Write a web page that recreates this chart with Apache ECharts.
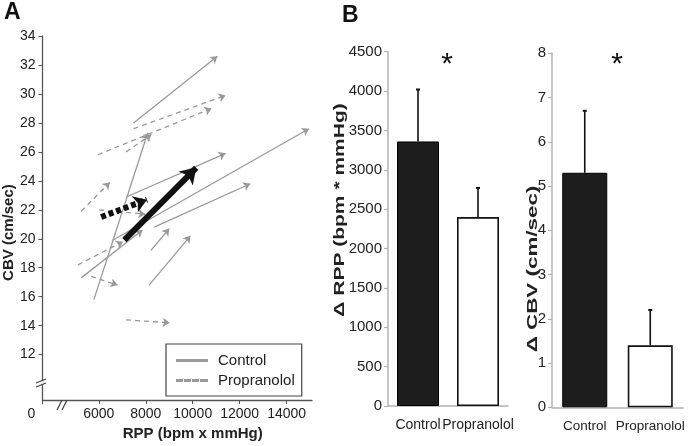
<!DOCTYPE html>
<html><head><meta charset="utf-8">
<script src="https://cdn.jsdelivr.net/npm/echarts@6/dist/echarts.min.js"></script>
<style>html,body{margin:0;padding:0;background:#fff}#c{width:689px;height:446px}</style>
</head><body><div id="c"></div>
<script>
// Panel A: individual subject arrows (rest -> exercise)
const controlRPP0 = [7480, 5790, 7200, 6590, 8360, 5250, 8220, 8140];
const controlCBV0 = [28.0, 15.8, 22.9, 19.9, 20.8, 17.3, 19.2, 16.8];
const controlRPP1 = [11050, 8080, 11400, 14950, 12450, 7860, 9000, 9900];
const controlCBV1 = [32.6, 27.3, 25.9, 27.6, 23.8, 20.6, 20.7, 20.2];
const propRPP0 = [7480, 5960, 5250, 6010, 5110, 7160, 5670, 7160];
const propCBV0 = [27.6, 25.8, 21.9, 22.0, 18.2, 26.0, 17.4, 14.4];
const propRPP1 = [11400, 10800, 6470, 7980, 7030, 8240, 6800, 9020];
const propCBV1 = [29.9, 29.0, 23.9, 21.7, 19.8, 27.2, 16.8, 14.2];
const meanControl = [[7085, 19.9], [10150, 24.9]];
const meanProp = [[6100, 21.5], [8050, 22.7]];
const yTicksA = [12, 14, 16, 18, 20, 22, 24, 26, 28, 30, 32, 34];
const xTicksA = [3600, 6000, 8000, 10000, 12000, 14000];
// Panel B
const groups = ['Control', 'Propranolol'];
const deltaRPP = [3360, 2400];
const deltaRPPerr = [660, 370];
const deltaCBV = [5.3, 1.4];
const deltaCBVerr = [1.4, 0.8];

const FONT = "'Liberation Sans', Arial, Helvetica, sans-serif";
const chart = echarts.init(document.getElementById('c'), null, {renderer: 'canvas'});

function segs(x0, y0, x1, y1) {
  return x0.map((v, i) => ({coords: [[v, y0[i]], [x1[i], y1[i]]]}));
}
function errSeries(xi, yi, vals, errs) {
  return {
    type: 'custom', xAxisIndex: xi, yAxisIndex: yi, z: 5,
    data: vals.map((v, i) => [i, v, errs[i]]),
    renderItem: function (params, api) {
      const lo = api.coord([api.value(0), api.value(1)]);
      const hi = api.coord([api.value(0), api.value(1) + api.value(2)]);
      return {type: 'group', children: [
        {type: 'line', shape: {x1: lo[0], y1: lo[1], x2: hi[0], y2: hi[1]}, style: {stroke: '#111', lineWidth: 1.6}},
        {type: 'line', shape: {x1: hi[0] - 2, y1: hi[1], x2: hi[0] + 2, y2: hi[1]}, style: {stroke: '#111', lineWidth: 2}}
      ]};
    }
  };
}
const grayAxis = {lineStyle: {color: '#b3b3b3', width: 1.5}};
const bAxisLabel = {color: '#222', fontSize: 15, fontFamily: FONT, margin: 6, formatter: v => String(v)};

const option = {
  animation: false,
  textStyle: {fontFamily: FONT},
  grid: [
    {left: 41, top: 36, width: 271, height: 369},
    {left: 388, top: 51.7, width: 120, height: 354.3},
    {left: 552, top: 53.3, width: 131, height: 354}
  ],
  xAxis: [
    {gridIndex: 0, type: 'value', min: 3600, max: 15080,
     axisLine: {lineStyle: {color: '#555', width: 1.3}},
     axisTick: {show: true, length: 4, customValues: xTicksA, lineStyle: {color: '#555'}},
     axisLabel: {customValues: xTicksA, color: '#222', fontSize: 14, margin: 7,
       formatter: v => v === 3600 ? '{z|0}' : String(v),
       rich: {z: {padding: [0, 22, 0, 0], fontSize: 14, color: '#222'}}},
     splitLine: {show: false},
     name: 'RPP (bpm x mmHg)', nameLocation: 'middle', nameGap: 23,
     nameTextStyle: {fontWeight: 'bold', fontSize: 15, color: '#222', padding: [0, 0, 0, 31]}},
    {gridIndex: 1, type: 'category', data: groups,
     axisLine: grayAxis, axisTick: {length: 5, lineStyle: {color: '#b3b3b3', width: 1.5}},
     axisLabel: {color: '#222', fontSize: 14, margin: 12, interval: 0, hideOverlap: false}},
    {gridIndex: 2, type: 'category', data: groups,
     axisLine: grayAxis, axisTick: {length: 5, lineStyle: {color: '#b3b3b3', width: 1.5}},
     axisLabel: {color: '#222', fontSize: 13.5, margin: 12, interval: 0, hideOverlap: false}}
  ],
  yAxis: [
    {gridIndex: 0, type: 'value', min: 8.86, max: 34,
     axisLine: {show: true, lineStyle: {color: '#555', width: 1.3}},
     axisTick: {show: true, length: 4, customValues: yTicksA, lineStyle: {color: '#555'}},
     axisLabel: {customValues: yTicksA, color: '#222', fontSize: 14, margin: 7},
     splitLine: {show: false},
     name: 'CBV (cm/sec)', nameLocation: 'middle', nameGap: 25,
     nameTextStyle: {fontWeight: 'bold', fontSize: 15, color: '#222', padding: [0, 29, 0, 0]}},
    {gridIndex: 1, type: 'value', min: 0, max: 4500, interval: 500,
     axisLine: {show: true, lineStyle: {color: '#b3b3b3', width: 1.5}},
     axisTick: {show: true, length: 4, lineStyle: {color: '#b3b3b3', width: 1.2}},
     axisLabel: bAxisLabel, splitLine: {show: false}},
    {gridIndex: 2, type: 'value', min: 0, max: 8, interval: 1,
     axisLine: {show: true, lineStyle: {color: '#b3b3b3', width: 1.5}},
     axisTick: {show: true, length: 4, lineStyle: {color: '#b3b3b3', width: 1.2}},
     axisLabel: bAxisLabel, splitLine: {show: false}}
  ],
  legend: {
    left: 166, top: 344, orient: 'vertical', padding: [9, 7, 8, 10], itemGap: 5,
    borderColor: '#444', borderWidth: 1.2, itemWidth: 30, itemHeight: 1.4,
    textStyle: {fontSize: 15, color: '#222', padding: [0, 0, 0, 6]},
    data: [
      {name: 'Control', icon: 'path://M0,0H30V1H0Z', itemStyle: {color: '#555'}},
      {name: 'Propranolol', icon: 'path://M0,0H5V1H0Z M8,0H13V1H8Z M16,0H21V1H16Z M24,0H30V1H24Z', itemStyle: {color: '#555'}}
    ]
  },
  series: [
    {name: 'Control', type: 'lines', coordinateSystem: 'cartesian2d', xAxisIndex: 0, yAxisIndex: 0,
     symbol: ['none', 'arrow'], symbolSize: 7, z: 2,
     lineStyle: {color: '#999', width: 1.3, opacity: 1}, itemStyle: {color: '#999'},
     data: segs(controlRPP0, controlCBV0, controlRPP1, controlCBV1)},
    {name: 'Propranolol', type: 'lines', coordinateSystem: 'cartesian2d', xAxisIndex: 0, yAxisIndex: 0,
     symbol: ['none', 'arrow'], symbolSize: 7, z: 2,
     lineStyle: {color: '#999', width: 1.3, type: [5, 4], opacity: 1}, itemStyle: {color: '#999'},
     data: segs(propRPP0, propCBV0, propRPP1, propCBV1)},
    {name: 'Control mean', type: 'lines', coordinateSystem: 'cartesian2d', xAxisIndex: 0, yAxisIndex: 0,
     symbol: ['none', 'arrow'], symbolSize: 15, z: 4,
     lineStyle: {color: '#111', width: 6, opacity: 1}, itemStyle: {color: '#111'},
     data: [{coords: meanControl}]},
    {name: 'Propranolol mean', type: 'lines', coordinateSystem: 'cartesian2d', xAxisIndex: 0, yAxisIndex: 0,
     symbol: ['none', 'arrow'], symbolSize: 13, z: 4,
     lineStyle: {color: '#111', width: 6, type: [5, 3], opacity: 1}, itemStyle: {color: '#111'},
     data: [{coords: meanProp}]},
    {type: 'bar', xAxisIndex: 1, yAxisIndex: 1, barWidth: 42, z: 3,
     data: deltaRPP.map((v, i) => ({value: v, itemStyle: i === 0
       ? {color: '#1d1d1d', borderColor: '#000', borderWidth: 1}
       : {color: '#fff', borderColor: '#111', borderWidth: 1.6}}))},
    errSeries(1, 1, deltaRPP, deltaRPPerr),
    {type: 'bar', xAxisIndex: 2, yAxisIndex: 2, barWidth: 45, z: 3,
     data: deltaCBV.map((v, i) => ({value: v, itemStyle: i === 0
       ? {color: '#1d1d1d', borderColor: '#000', borderWidth: 1}
       : {color: '#fff', borderColor: '#111', borderWidth: 1.6}}))},
    errSeries(2, 2, deltaCBV, deltaCBVerr)
  ],
  graphic: [
    {type: 'text', left: 4, top: 1, style: {text: 'A', font: 'bold 23px ' + FONT, fill: '#111'}},
    {type: 'text', left: 342, top: 4, style: {text: 'B', font: 'bold 23px ' + FONT, fill: '#111'}},
    {type: 'text', x: 447, y: 65, style: {text: '*', font: '30px ' + FONT, fill: '#111', align: 'center', verticalAlign: 'middle'}},
    {type: 'text', x: 617, y: 65, style: {text: '*', font: '30px ' + FONT, fill: '#111', align: 'center', verticalAlign: 'middle'}},
    {type: 'text', x: 340, y: 210, rotation: Math.PI / 2, scaleX: 1.5,
     style: {text: '\u0394 RPP (bpm * mmHg)', font: 'bold 14px ' + FONT, fill: '#222', align: 'center', verticalAlign: 'middle'}},
    {type: 'text', x: 533, y: 269, rotation: Math.PI / 2, scaleX: 1.6,
     style: {text: '\u0394 CBV (cm/sec)', font: 'bold 14px ' + FONT, fill: '#222', align: 'center', verticalAlign: 'middle'}},
    // axis break marks
    {type: 'rect', shape: {x: 59, y: 403, width: 6, height: 4}, style: {fill: '#fff'}, z: 10},
    {type: 'line', shape: {x1: 57, y1: 410, x2: 62, y2: 400}, style: {stroke: '#444', lineWidth: 1.2}, z: 11},
    {type: 'line', shape: {x1: 62, y1: 410, x2: 67, y2: 400}, style: {stroke: '#444', lineWidth: 1.2}, z: 11},
    {type: 'rect', shape: {x: 39, y: 381, width: 4, height: 4}, style: {fill: '#fff'}, z: 10},
    {type: 'line', shape: {x1: 36, y1: 383, x2: 46, y2: 379}, style: {stroke: '#444', lineWidth: 1.2}, z: 11},
    {type: 'line', shape: {x1: 36, y1: 387, x2: 46, y2: 383}, style: {stroke: '#444', lineWidth: 1.2}, z: 11}
  ]
};
chart.setOption(option);
</script></body></html>
